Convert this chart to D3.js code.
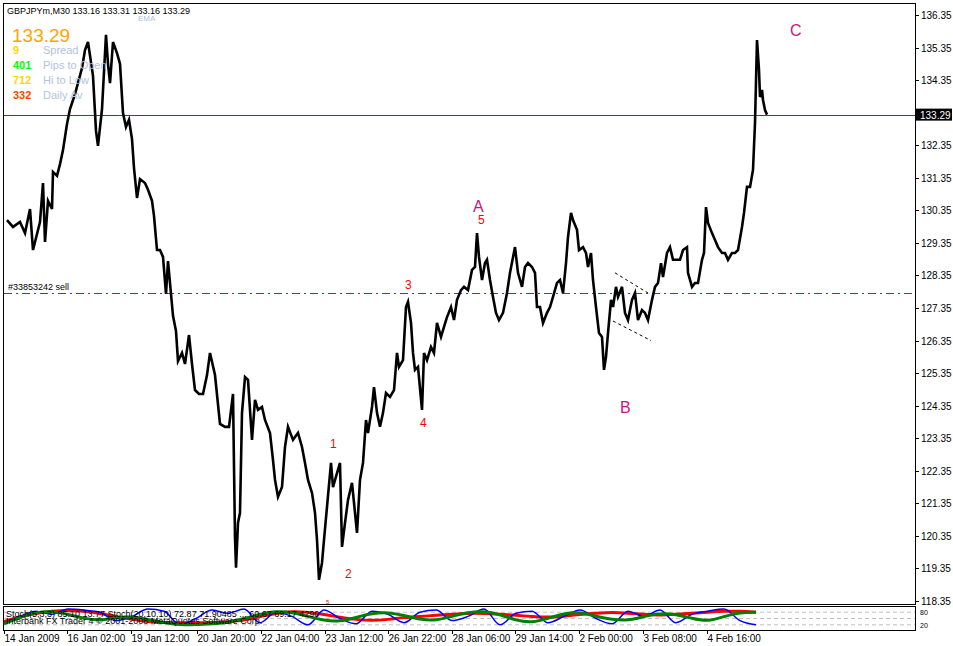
<!DOCTYPE html>
<html>
<head>
<meta charset="utf-8">
<script src="https://cdn.jsdelivr.net/npm/d3@7"></script>
<style>
body { margin: 0; background: #fff; }
text { font-family: "Liberation Sans", Arial, sans-serif; }
</style>
</head>
<body>
<svg id="chart" width="953" height="646"></svg>
<script>
// price path, bar index (30 min bars) and close
var barIdx = [3,9,16,21,26,29,36,39,41,44,48,49,53,56,59,63,66,71,78,81,84,89,92,94,98,102,104,106,109,113,116,119,122,125,128,130,133,136,141,144,148,150,153,156,159,162,164,167,169,172,174,178,181,185,188,191,195,199,203,206,211,216,221,225,229,231,232,234,236,
  238,241,244,248,251,254,258,261,266,269,271,274,278,281,284,289,294,298,301,304,308,311,313,315,318,320,323,327,329,333,336,338,341,344,348,351,353,356,359,362,364,368,370,373,376,379,382,386,390,393,395,399,402,404,407,409,411,414,418,420,423,427,430,433,437,440,443,447,450,453,457,460,464,468,471,473,475,478,481,483,486,489,492,495,
  499,503,506,511,514,518,521,524,528,531,533,536,539,543,546,549,553,556,559,562,564,567,569,573,575,579,582,584,587,589,592,595,598,600,602,604,607,609,612,614,618,621,624,628,631,634,638,641,644,648,651,654,657,659,663,666,669,673,676,679,683,684,688,691,694,698,700,702,704,708,711,714,718,721,724,728,731,734,738,740,743,746,749,751,753,755,756,758,759,761,763];
var closes = [130.05,129.84,129.99,129.65,130.39,129.13,129.99,131.19,129.38,130.64,130.39,131.53,131.41,131.77,132.20,133.00,133.46,133.92,134.72,135.27,135.52,134.48,132.79,132.33,133.46,135.74,134.85,134.26,135.52,135.18,134.85,133.34,132.91,133.13,132.54,131.65,130.73,131.31,131.19,130.98,130.64,130.18,129.13,129.13,128.92,127.78,128.79,127.78,127.11,126.64,125.72,125.97,125.63,126.52,125.63,124.83,124.71,124.71,125.29,125.97,125.29,123.79,123.70,123.70,124.71,120.29,119.37,120.75,121.06,
  124.13,125.23,125.14,123.30,124.53,124.22,124.31,123.91,123.51,122.68,122.07,121.55,121.85,123.08,123.70,123.30,123.51,123.08,122.59,122.07,121.67,121.06,120.23,119.00,119.52,120.23,121.24,122.59,121.85,122.28,122.59,120.01,120.75,121.45,121.98,121.06,120.44,122.07,122.59,123.91,123.51,124.31,124.92,124.13,123.70,124.13,124.74,124.62,124.83,125.97,125.54,125.75,127.38,127.54,126.89,125.97,125.45,125.54,124.22,125.97,125.75,126.15,125.97,126.89,126.46,126.77,127.07,127.38,126.98,127.60,127.90,128.00,127.90,128.52,128.61,129.65,128.92,128.21,128.73,128.83,128.21,127.69,127.20,126.98,
  127.20,127.81,128.43,129.22,128.43,128.00,128.61,128.73,128.61,128.43,127.38,127.38,126.89,127.20,127.38,127.69,128.12,128.21,127.81,128.73,129.53,130.27,130.05,129.75,129.13,129.22,129.04,128.61,129.04,128.21,127.38,126.58,126.46,125.45,125.85,126.58,127.60,127.38,128.00,127.69,128.00,127.20,126.98,127.60,127.81,126.98,127.29,127.20,126.98,127.60,128.00,128.12,128.73,128.30,129.04,129.22,128.83,128.83,128.83,129.13,129.22,128.43,128.00,128.12,128.12,128.83,129.04,130.45,129.96,129.65,129.44,129.22,129.04,129.04,128.83,129.04,129.04,129.13,129.84,130.27,131.07,131.07,131.59,133.03,135.58,134.66,133.83,134.05,133.74,133.43,133.29];

var priceTicks = [136.35,135.35,134.35,132.35,131.35,130.35,129.35,128.35,127.35,126.35,125.35,124.35,123.35,122.35,121.35,120.35,119.35,118.35];
var timeTickBars = [0,63,127,193,257,321,384,448,511,575,639,703];
var timeTickLabels = ["14 Jan 2009","16 Jan 02:00","19 Jan 12:00","20 Jan 20:00","22 Jan 04:00","23 Jan 12:00","26 Jan 22:00","28 Jan 06:00","29 Jan 14:00","2 Feb 00:00","3 Feb 08:00","4 Feb 16:00"];

var lastPrice = 133.29;
var sellPrice = 127.81;

// wave labels: [bar, price, text]
var waveNums = [[326,123.05,"1"],[341,119.05,"2"],[401,127.92,"3"],[416,123.68,"4"],[474,129.94,"5"]];
var waveLetters = [[469,130.30,"A"],[616,124.12,"B"],[786,135.70,"C"]];

// stochastic panel, one value per 16 bars
var stochBlue = [30,60,85,70,95,90,80,40,60,95,85,20,50,90,75,95,30,80,60,20,90,50,25,85,70,30,80,90,40,60,95,20,75,85,30,60,90,50,25,85,60,90,30,70,85,95,40,20];
var stochRed = [35,60,75,85,90,85,75,60,45,35,30,30,30,30,35,40,60,75,85,80,70,55,45,40,45,55,60,65,70,75,75,70,65,60,55,60,70,75,80,75,70,65,70,75,80,85,85,80];
var stochGreen = [25,55,80,85,70,50,40,55,60,45,30,20,20,25,30,50,70,85,80,60,40,35,55,75,80,65,45,40,60,80,85,70,40,30,50,75,80,60,45,40,60,75,70,50,35,60,80,80];
var stochLevels = [80,50,20];

var svg = d3.select("#chart");
var x = d3.scaleLinear().domain([0, 764]).range([4, 768]);
var y = d3.scaleLinear().domain([118.35, 136.35]).range([601, 15]);
var ys = d3.scaleLinear().domain([0, 100]).range([629, 608]);

// frames
svg.append("rect").attr("x", 3.5).attr("y", 3.5).attr("width", 912).attr("height", 601)
    .attr("fill", "none").attr("stroke", "#000");
svg.append("rect").attr("x", 3.5).attr("y", 606.5).attr("width", 912).attr("height", 24)
    .attr("fill", "none").attr("stroke", "#000");

// price axis
var yAxis = svg.append("g");
priceTicks.forEach(function(p) {
    yAxis.append("line").attr("x1", 915.5).attr("x2", 919).attr("y1", Math.round(y(p)) + 0.5).attr("y2", Math.round(y(p)) + 0.5).attr("stroke", "#000");
    yAxis.append("text").attr("x", 921).attr("y", y(p) + 4).attr("font-size", 10).text(p.toFixed(2));
});

// time axis
timeTickBars.forEach(function(b, i) {
    var tx = Math.round(x(b)) + 0.5;
    svg.append("line").attr("x1", tx).attr("x2", tx).attr("y1", 630).attr("y2", 634).attr("stroke", "#000");
    svg.append("text").attr("x", tx).attr("y", 642).attr("font-size", 10).text(timeTickLabels[i]);
});

// sell line
svg.append("line").attr("x1", 4).attr("x2", 915).attr("y1", Math.round(y(sellPrice)) + 0.5).attr("y2", Math.round(y(sellPrice)) + 0.5)
    .attr("stroke", "#008000").attr("stroke-dasharray", "8,4,2,4");
svg.append("text").attr("x", 8).attr("y", y(sellPrice) - 3).attr("font-size", 9).text("#33853242 sell");

// bid line
svg.append("line").attr("x1", 4).attr("x2", 915).attr("y1", Math.round(y(lastPrice)) + 0.5).attr("y2", Math.round(y(lastPrice)) + 0.5)
    .attr("stroke", "#e00000");
svg.append("rect").attr("x", 916).attr("y", y(lastPrice) - 6).attr("width", 36).attr("height", 12).attr("fill", "#000");
svg.append("text").attr("x", 920).attr("y", y(lastPrice) + 4).attr("font-size", 10).attr("fill", "#fff").text(lastPrice.toFixed(2));

// wedge (dashed trendlines)
var wedge = [[[611,128.43],[644,127.81]],[[609,126.95],[647,126.35]]];
wedge.forEach(function(s) {
    svg.append("line").attr("x1", x(s[0][0])).attr("y1", y(s[0][1])).attr("x2", x(s[1][0])).attr("y2", y(s[1][1]))
        .attr("stroke", "#000").attr("stroke-dasharray", "3,3");
});

// price line
var line = d3.line().x(function(d, i) { return x(barIdx[i]); }).y(function(d) { return y(d); });
svg.append("path").datum(closes).attr("d", line).attr("fill", "none")
    .attr("stroke", "#000").attr("stroke-width", 2.6).attr("stroke-linejoin", "miter");

// wave labels
waveNums.forEach(function(w) {
    svg.append("text").attr("x", x(w[0])).attr("y", y(w[1])).attr("font-size", 12).attr("fill", "#ff0000").text(w[2]);
});
waveLetters.forEach(function(w) {
    svg.append("text").attr("x", x(w[0])).attr("y", y(w[1])).attr("font-size", 16).attr("fill", "#c71585").text(w[2]);
});
svg.append("text").attr("x", 326).attr("y", 604).attr("font-size", 6).attr("fill", "#ff0000").text("5");

// stochastic panel
stochLevels.forEach(function(l) {
    svg.append("line").attr("x1", 4).attr("x2", 915).attr("y1", ys(l)).attr("y2", ys(l))
        .attr("stroke", "#c0c0c0").attr("stroke-dasharray", "4,3");
});
svg.append("text").attr("x", 920).attr("y", ys(80) + 3).attr("font-size", 7).text("80");
svg.append("text").attr("x", 920).attr("y", ys(20) + 3).attr("font-size", 7).text("20");

var sLine = d3.line().x(function(d, i) { return x(i * 16); }).y(function(d) { return ys(d); }).curve(d3.curveBasis);
svg.append("path").datum(stochRed).attr("d", sLine).attr("fill", "none").attr("stroke", "#ff0000").attr("stroke-width", 3);
svg.append("path").datum(stochBlue).attr("d", d3.line().x(function(d, i) { return x(i * 16); }).y(function(d) { return ys(d); }).curve(d3.curveMonotoneX))
    .attr("fill", "none").attr("stroke", "#0000ff").attr("stroke-width", 1.5);
svg.append("path").datum(stochGreen).attr("d", sLine).attr("fill", "none").attr("stroke", "#008000").attr("stroke-width", 3);
svg.append("text").attr("x", 6).attr("y", 617).attr("font-size", 9).text("Stoch(5,3,3) 85.10 13.77 Stoch(20,10,10) 72.87 71.90485 ... 60.67 69.17 4290");
svg.append("text").attr("x", 6).attr("y", 624).attr("font-size", 9).text("Interbank FX Trader 4 \u00a9 2001-2008 MetaQuotes Software Corp.");

// header info
svg.append("text").attr("x", 7).attr("y", 14).attr("font-size", 9).text("GBPJPYm,M30  133.16 133.31 133.16 133.29");
svg.append("text").attr("x", 138).attr("y", 21).attr("font-size", 8).attr("fill", "#b0c4de").text("EMA");
svg.append("text").attr("x", 12).attr("y", 42).attr("font-size", 19).attr("fill", "#ffa500").text("133.29");
var info = [["9", "#ffd700", "Spread"], ["401", "#00ff00", "Pips to Open"], ["712", "#ffd700", "Hi to Low"], ["332", "#ff4500", "Daily Av"]];
info.forEach(function(r, i) {
    svg.append("text").attr("x", 13).attr("y", 54 + i * 15).attr("font-size", 11).attr("font-weight", "bold").attr("fill", r[1]).text(r[0]);
    svg.append("text").attr("x", 43).attr("y", 54 + i * 15).attr("font-size", 11).attr("fill", "#b0c4de").text(r[2]);
});
</script>
</body>
</html>
